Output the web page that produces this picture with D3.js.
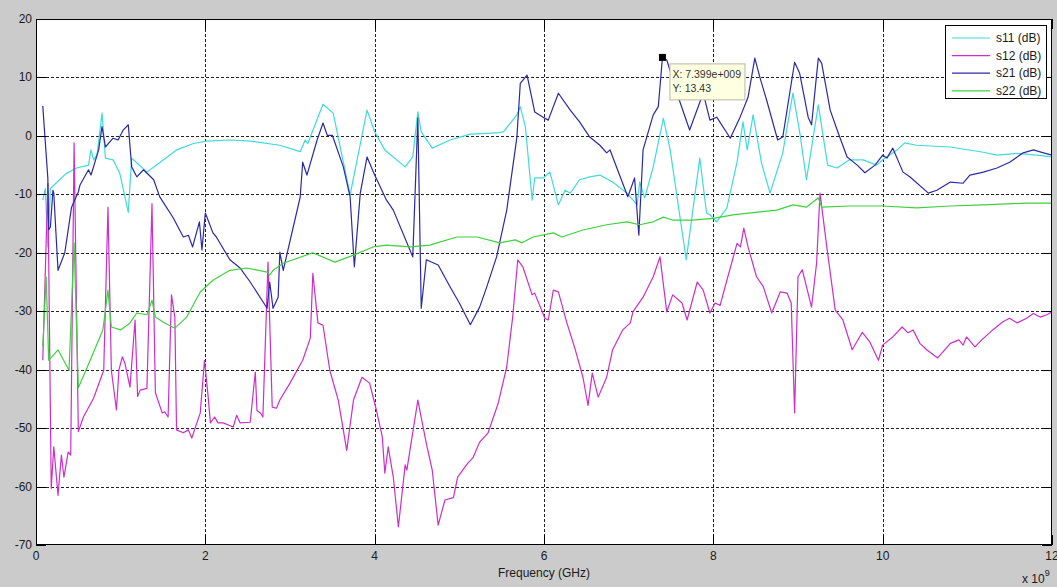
<!DOCTYPE html>
<html>
<head>
<meta charset="utf-8">
<script src="https://cdn.jsdelivr.net/npm/d3@7"></script>
<style>
  html, body { margin: 0; padding: 0; background: #cbcbcb; }
  svg { display: block; font-family: "Liberation Sans", Arial, sans-serif; }
</style>
</head>
<body>
<svg id="chart" width="1057" height="587"></svg>
<script>
// ---------- data (frequency in GHz, magnitude in dB) ----------
const xTicks = [0, 2, 4, 6, 8, 10, 12];
const yTicks = [20, 10, 0, -10, -20, -30, -40, -50, -60, -70];
const seriesNames = ["s11 (dB)", "s12 (dB)", "s21 (dB)", "s22 (dB)"];
const seriesColors = ["#3fdada", "#cc2ecc", "#2a2aa6", "#3fd03f"];

const s11 = [[0.08,-11],[0.11,-9],[0.14,-19],[0.17,-9],[0.25,-7.9],[0.35,-6.5],[0.48,-5.5],[0.62,-5],[0.65,-2.4],[0.68,-4.1],[0.72,-3.3],[0.78,3.9],[0.82,-3.8],[0.91,-4.1],[0.99,-6.4],[1.09,-13.1],[1.13,-3.8],[1.19,-4.6],[1.31,-6.2],[1.46,-4.6],[1.66,-2.4],[1.86,-1.3],[2.02,-0.9],[2.3,-0.7],[2.53,-0.9],[2.88,-1.6],[3.12,-2.7],[3.18,-0.7],[3.21,-1.3],[3.39,5.4],[3.51,3.9],[3.71,-10.1],[3.91,4.4],[4.0,0.7],[4.12,-2.4],[4.36,-5.3],[4.45,-3.6],[4.51,4.1],[4.55,0.7],[4.68,-2.1],[4.89,-0.7],[5.13,0.3],[5.44,0.5],[5.52,0.7],[5.68,3.6],[5.72,5],[5.78,1.6],[5.86,-11],[5.89,-7.2],[5.99,-7.2],[6.07,-6.2],[6.17,-11.8],[6.25,-9.3],[6.31,-9.8],[6.42,-7.5],[6.54,-7],[6.66,-6.7],[6.81,-7.9],[6.98,-9.8],[7.1,-11.8],[7.13,-7.9],[7.19,-10.6],[7.29,-5.3],[7.41,3.0],[7.49,-2.4],[7.68,-21.2],[7.84,-3.8],[7.92,-13.2],[7.96,-13.5],[8.04,-14.7],[8.16,-12.3],[8.28,-4.5],[8.35,2.4],[8.4,-2.4],[8.47,3.6],[8.57,-4.7],[8.67,-9.8],[8.82,-2.9],[8.94,7.3],[9.02,0.7],[9.1,-7.5],[9.24,5.3],[9.35,-5],[9.46,-5.5],[9.61,-4.1],[9.77,-4.1],[9.93,-5],[10.0,-4.1],[10.17,-2.4],[10.26,-1.2],[10.4,-1.6],[10.8,-1.9],[11.19,-2.8],[11.35,-3.3],[11.59,-3.0],[11.82,-3.3],[12.0,-3.6]];

const s12 = [[0.08,-38.4],[0.14,-8.1],[0.18,-60.3],[0.21,-53.2],[0.26,-61.5],[0.3,-54.6],[0.33,-58.4],[0.38,-54.1],[0.41,-54.6],[0.45,-1.2],[0.5,-50.6],[0.56,-48.1],[0.68,-44.9],[0.8,-40.1],[0.85,-12.2],[0.89,-40.1],[0.95,-46.9],[0.98,-40],[1.02,-37.8],[1.05,-38.9],[1.11,-43],[1.17,-31.5],[1.2,-44.6],[1.23,-43.5],[1.31,-43.2],[1.37,-11.6],[1.41,-43.9],[1.49,-47.4],[1.52,-47.2],[1.56,-48.1],[1.6,-27.2],[1.64,-31],[1.66,-50.3],[1.74,-50.8],[1.8,-50.3],[1.84,-51.7],[1.9,-49.1],[1.94,-47.4],[1.99,-38.4],[2.03,-44.1],[2.06,-49.1],[2.11,-48.1],[2.15,-49.1],[2.21,-49.1],[2.33,-49.8],[2.37,-47.8],[2.41,-49.1],[2.53,-49],[2.59,-40.4],[2.61,-47],[2.65,-47.4],[2.68,-48.1],[2.74,-21.6],[2.79,-46.4],[2.84,-46.6],[2.88,-45.2],[3.0,-42.3],[3.15,-38.4],[3.24,-34.6],[3.27,-23.5],[3.33,-32],[3.39,-32.4],[3.47,-40.1],[3.57,-45.2],[3.67,-53.8],[3.75,-45.2],[3.85,-41.3],[3.94,-42.3],[4.02,-46.9],[4.09,-51.5],[4.12,-57.7],[4.16,-53.2],[4.22,-58.4],[4.28,-66.9],[4.36,-56.3],[4.38,-57.2],[4.51,-45.2],[4.61,-52.6],[4.68,-57.2],[4.75,-66.6],[4.83,-62.3],[4.93,-61.9],[4.98,-58.4],[5.1,-56],[5.16,-55.1],[5.24,-52.4],[5.34,-50.8],[5.46,-45.7],[5.56,-39.5],[5.63,-31],[5.69,-21.2],[5.75,-22.4],[5.86,-27.2],[5.89,-26.9],[6.01,-31.2],[6.05,-31.5],[6.11,-26.4],[6.17,-26.7],[6.27,-32],[6.37,-36.6],[6.46,-41.3],[6.52,-46.1],[6.57,-40.6],[6.64,-44.7],[6.74,-41.3],[6.81,-36.6],[6.93,-33.2],[7.02,-32],[7.05,-30.1],[7.17,-27.6],[7.29,-24.1],[7.37,-20.7],[7.45,-30.1],[7.52,-27.2],[7.63,-28.6],[7.69,-31.5],[7.81,-25],[7.88,-26.4],[7.96,-30.3],[8.02,-28.6],[8.08,-29],[8.16,-24.7],[8.28,-18.4],[8.32,-19],[8.36,-15.8],[8.41,-19],[8.51,-24.1],[8.59,-25.8],[8.69,-30.3],[8.79,-26.7],[8.87,-26.9],[8.92,-28.6],[8.96,-47.4],[9.0,-24.1],[9.05,-22.9],[9.16,-29.3],[9.22,-21.7],[9.26,-9.8],[9.34,-19],[9.44,-29.8],[9.53,-31.5],[9.64,-36.6],[9.76,-33.6],[9.85,-35.3],[9.95,-38.4],[10.0,-35.8],[10.12,-34.4],[10.23,-32.7],[10.3,-33.7],[10.36,-33.2],[10.44,-35.5],[10.52,-36.6],[10.65,-38],[10.8,-35.5],[10.9,-34.9],[10.95,-35.8],[10.99,-34.4],[11.09,-36.1],[11.17,-34.9],[11.3,-33.2],[11.42,-31.8],[11.5,-31.2],[11.59,-32],[11.7,-31.2],[11.78,-30.4],[11.86,-31],[11.94,-30.6],[12.0,-30.1]];

const s21 = [[0.08,5.1],[0.14,-7.3],[0.15,-16.1],[0.17,-15.6],[0.2,-9.3],[0.21,-9.8],[0.26,-23],[0.34,-20],[0.42,-12.2],[0.5,-9.6],[0.52,-8.4],[0.62,-5.8],[0.65,-6.7],[0.74,-2.4],[0.78,1.6],[0.82,-1.9],[0.91,-0.4],[0.97,-0.7],[1.03,1.0],[1.09,1.9],[1.13,-5.3],[1.19,-7.0],[1.27,-5.8],[1.39,-7.5],[1.46,-10.4],[1.62,-14],[1.74,-17.3],[1.8,-17],[1.85,-19],[1.93,-14.7],[1.96,-19.5],[2.0,-13.2],[2.09,-16.6],[2.13,-17.3],[2.29,-21.2],[2.41,-22.6],[2.53,-25],[2.73,-29.5],[2.76,-25],[2.8,-29.5],[2.86,-27.6],[2.88,-19.9],[2.92,-23],[3.12,-10.5],[3.15,-4.5],[3.2,-6.7],[3.32,-0.7],[3.39,2.2],[3.44,0.1],[3.5,0.1],[3.63,-5.3],[3.71,-10.4],[3.76,-22.4],[3.83,-9.8],[3.91,-3.6],[4.0,-6.7],[4.14,-11],[4.22,-12.7],[4.45,-20.7],[4.51,3.1],[4.55,-29.5],[4.61,-21.2],[4.75,-22.1],[4.89,-25.8],[5.0,-28.6],[5.13,-32.3],[5.24,-29.3],[5.32,-26],[5.44,-20.7],[5.56,-12.7],[5.68,-0.2],[5.72,9],[5.8,10.4],[5.89,4.1],[5.99,3.2],[6.05,2.7],[6.17,7.3],[6.31,4.4],[6.42,2.4],[6.54,-0.2],[6.66,-1.6],[6.74,-2.9],[6.78,-2.4],[6.9,-7],[6.99,-10.4],[7.07,-7.2],[7.12,-17],[7.17,-2.4],[7.29,3.6],[7.35,5],[7.399,13.43],[7.45,13],[7.57,7.3],[7.72,1],[7.88,7.3],[7.96,2.7],[8.04,3.2],[8.2,-0.4],[8.31,3],[8.41,6.6],[8.49,13.3],[8.55,10],[8.63,6.1],[8.76,-0.7],[8.82,-0.2],[8.96,12.6],[9.02,10.7],[9.12,3.2],[9.16,1.9],[9.24,13.3],[9.28,12.4],[9.38,4.4],[9.47,0.7],[9.58,-3.6],[9.7,-5],[9.79,-6.3],[9.91,-5],[10.0,-3.3],[10.05,-3.8],[10.12,-2.1],[10.24,-6.2],[10.32,-7],[10.54,-9.8],[10.64,-9.3],[10.8,-7.9],[10.95,-8.1],[11.03,-6.7],[11.19,-6.2],[11.35,-5.5],[11.5,-4.5],[11.66,-2.9],[11.78,-2.4],[11.9,-2.9],[12.0,-3.3]];

const s22 = [[0.08,-36.1],[0.12,-24.1],[0.15,-38.4],[0.26,-36.6],[0.39,-40.1],[0.45,-18.3],[0.5,-43.1],[0.59,-40.1],[0.79,-33.2],[0.85,-26.4],[0.89,-32.7],[1.0,-33.2],[1.11,-32],[1.19,-30.3],[1.31,-30.6],[1.37,-28.1],[1.41,-31],[1.52,-32],[1.64,-32.9],[1.78,-31],[1.94,-26.7],[2.09,-24.7],[2.29,-23],[2.49,-22.6],[2.73,-23.3],[2.76,-23.8],[2.8,-23],[2.92,-21.8],[3.27,-20],[3.53,-21.6],[3.75,-20.4],[3.98,-19],[4.14,-18.7],[4.42,-19],[4.65,-18.7],[4.97,-17.3],[5.21,-17.3],[5.48,-18.3],[5.66,-17.8],[5.74,-18.3],[5.87,-17.3],[6.11,-16.6],[6.21,-17.3],[6.46,-16.1],[6.74,-15.2],[6.98,-14.7],[7.13,-15.2],[7.29,-14.7],[7.41,-13.9],[7.52,-14.4],[7.76,-14.4],[8.0,-14.1],[8.23,-13.5],[8.55,-13],[8.75,-12.7],[8.94,-11.8],[9.1,-12.2],[9.24,-10.6],[9.28,-12.2],[9.61,-12],[10.0,-12],[10.4,-12.3],[10.8,-12],[11.19,-11.8],[11.7,-11.5],[12.0,-11.5]];

const datatip = { x: 7.399, y: 13.43, xText: "X: 7.399e+009", yText: "Y: 13.43" };

// ---------- layout ----------
const svg = d3.select("#chart");
const pL = 36, pR = 1052, pT = 19, pB = 545;
const x = d3.scaleLinear().domain([0, 12]).range([pL, pR]);
const y = d3.scaleLinear().domain([-70, 20]).range([pB, pT]);

// plot background
svg.append("rect").attr("x", pL).attr("y", pT)
  .attr("width", pR - pL).attr("height", pB - pT).attr("fill", "#ffffff");

// gridlines
const grid = svg.append("g");
grid.selectAll("line.gx").data(xTicks.filter(t => t > 0 && t < 12)).join("line")
  .attr("x1", d => Math.round(x(d)) + 0.5).attr("x2", d => Math.round(x(d)) + 0.5)
  .attr("y1", pT).attr("y2", pB)
  .attr("stroke", "#222").attr("stroke-width", 1).attr("stroke-dasharray", "3,2");
grid.selectAll("line.gy").data(yTicks.filter(t => t > -70)).join("line")
  .attr("y1", d => Math.round(y(d)) + 0.5).attr("y2", d => Math.round(y(d)) + 0.5)
  .attr("x1", pL).attr("x2", pR)
  .attr("stroke", "#222").attr("stroke-width", 1).attr("stroke-dasharray", "3,2");

// lines
svg.append("clipPath").attr("id", "clip").append("rect")
  .attr("x", pL).attr("y", pT).attr("width", pR - pL).attr("height", pB - pT);
const line = d3.line().x(d => x(d[0])).y(d => y(d[1]));
const allSeries = [s11, s12, s21, s22];
const plotG = svg.append("g").attr("clip-path", "url(#clip)");
plotG.selectAll("path.series").data(allSeries).join("path")
  .attr("fill", "none")
  .attr("stroke", (d, i) => seriesColors[i])
  .attr("stroke-width", 1.2)
  .attr("stroke-linejoin", "round")
  .attr("d", line);

// axes (MATLAB-style, ticks inward on all sides)
const tickLen = 10;
const axG = svg.append("g").attr("stroke", "#000").attr("stroke-width", 1);
axG.append("rect").attr("x", pL + 0.5).attr("y", pT + 0.5)
  .attr("width", pR - pL - 1).attr("height", pB - pT - 1)
  .attr("fill", "none");
xTicks.forEach(t => {
  const xx = Math.round(x(t)) + 0.5;
  axG.append("line").attr("x1", xx).attr("x2", xx).attr("y1", pB).attr("y2", pB - tickLen);
  axG.append("line").attr("x1", xx).attr("x2", xx).attr("y1", pT).attr("y2", pT + tickLen);
});
yTicks.forEach(t => {
  const yy = Math.round(y(t)) + 0.5;
  axG.append("line").attr("x1", pL).attr("x2", pL + tickLen).attr("y1", yy).attr("y2", yy);
  axG.append("line").attr("x1", pR - tickLen).attr("x2", pR).attr("y1", yy).attr("y2", yy);
});

// tick labels
svg.append("g").selectAll("text").data(yTicks).join("text")
  .attr("x", pL - 4).attr("y", d => y(d) + 4)
  .attr("text-anchor", "end").attr("font-size", 12).attr("fill", "#1a1a1a")
  .text(d => d);
svg.append("g").selectAll("text").data(xTicks).join("text")
  .attr("x", d => x(d)).attr("y", pB + 15)
  .attr("text-anchor", "middle").attr("font-size", 12).attr("fill", "#1a1a1a")
  .text(d => d);

// axis label + exponent
svg.append("text").attr("x", (pL + pR) / 2).attr("y", 577)
  .attr("text-anchor", "middle").attr("font-size", 12).attr("fill", "#1a1a1a")
  .text("Frequency (GHz)");
const expT = svg.append("text").attr("x", 1022).attr("y", 583)
  .attr("font-size", 12).attr("fill", "#1a1a1a");
expT.append("tspan").text("x 10");
expT.append("tspan").attr("dy", -7).attr("font-size", 9).text("9");

// legend
const lg = svg.append("g");
lg.append("rect").attr("x", 945.5).attr("y", 25.5).attr("width", 101).attr("height", 73)
  .attr("fill", "#fff").attr("stroke", "#000").attr("stroke-width", 1);
seriesNames.forEach((n, i) => {
  const yy = 38 + i * 17.6;
  lg.append("line").attr("x1", 952).attr("x2", 990).attr("y1", yy).attr("y2", yy)
    .attr("stroke", seriesColors[i]).attr("stroke-width", 1.2);
  lg.append("text").attr("x", 996).attr("y", yy + 4).attr("font-size", 12)
    .attr("fill", "#1a1a1a").text(n);
});

// data tip
const tx = x(datatip.x), ty = y(datatip.y);
svg.append("rect").attr("x", tx - 3.5).attr("y", ty - 3.5).attr("width", 7).attr("height", 7)
  .attr("fill", "#000");
const tip = svg.append("g");
tip.append("rect").attr("x", tx + 7.5).attr("y", ty + 6.5).attr("width", 75).attr("height", 36)
  .attr("fill", "#ffffe1").attr("stroke", "#b8b8a0").attr("stroke-width", 1);
tip.append("text").attr("x", tx + 10).attr("y", ty + 21).attr("font-size", 10.5)
  .attr("fill", "#333").text(datatip.xText);
tip.append("text").attr("x", tx + 10).attr("y", ty + 35).attr("font-size", 10.5)
  .attr("fill", "#333").text(datatip.yText);
</script>
</body>
</html>
